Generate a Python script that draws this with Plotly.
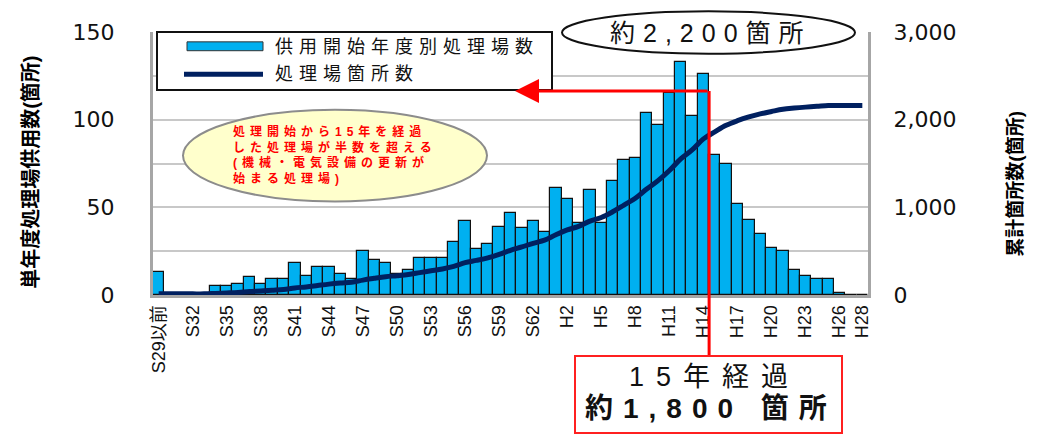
import plotly.graph_objects as go

# 年度カテゴリ (S29以前, S30..S63, H1..H28)
years = ['S29以前'] + [f'S{n}' for n in range(30, 64)] + [f'H{n}' for n in range(1, 29)]

# 供用開始年度別処理場数 (箇所)
plants_per_year = [
    13,
    0, 0, 0, 0, 5, 5, 6, 10, 6, 9, 9, 18, 11, 16, 16,
    12, 9, 25, 20, 18, 12, 14, 21, 21, 21,
    30, 42, 26, 29, 39, 47, 38, 42, 36,
    61, 55, 41, 60, 41, 65, 77, 78,
    104, 97, 115, 133, 102, 126,
    80, 75, 52, 43, 35, 27, 25, 14, 11, 9, 9, 1, 0, 0,
]

# 処理場箇所数 (累計)
cumulative = [
    13,
    13, 13, 13, 13, 18, 23, 29, 39, 45, 54, 63, 81, 92, 108, 124,
    136, 145, 170, 190, 208, 220, 234, 255, 276, 297,
    327, 369, 395, 424, 463, 510, 548, 590, 626,
    687, 742, 783, 843, 884, 949, 1026, 1104,
    1208, 1305, 1420, 1553, 1655, 1781,
    1861, 1936, 1988, 2031, 2066, 2093, 2118, 2132, 2143, 2152, 2161, 2162, 2162, 2162,
]

tick_years = years[::3] + ['H28']

BAR_BLUE = '#00b0f0'
NAVY = '#002060'
GRID = '#c8c8c8'
FRAME = '#a6a6a6'
JP = 'Liberation Sans, Noto Sans CJK JP, sans-serif'
NUM = 'DejaVu Sans, Liberation Sans, sans-serif'

# the page body has an 8px margin; target plot area on screen: x 153..868, y 28..295
OFF = 8
W, H = 1042 - OFF, 437 - OFF
PX0, PX1, PY0, PY1 = 153, 868, 28, 295


def px(x):
    return (x - PX0) / (PX1 - PX0)


def py(y):
    return (PY1 - y) / (PY1 - PY0)


def spaced(text, sp):
    return f"<span style='letter-spacing:{sp}px'>{text}</span>"


def label(text, x, y, size, xanchor='left', **kw):
    font = dict(family=JP, size=size, color=kw.pop('color', '#111111'), weight=kw.pop('weight', 'normal'))
    return dict(text=text, x=px(x), y=py(y), xref='paper', yref='paper',
                xanchor=xanchor, yanchor='middle', showarrow=False, font=font, **kw)


fig = go.Figure()
fig.add_trace(go.Bar(
    x=years, y=plants_per_year, name='供用開始年度別処理場数',
    marker=dict(color=BAR_BLUE, line=dict(color='#111111', width=1.2)),
    showlegend=False,
))
fig.add_trace(go.Scatter(
    x=years, y=cumulative, name='処理場箇所数', yaxis='y2',
    mode='lines', line=dict(color=NAVY, width=5, shape='spline'),
    showlegend=False,
))

shapes = [
    # 凡例ボックス
    dict(type='rect', xref='paper', yref='paper', x0=px(157), x1=px(552), y0=py(87), y1=py(28),
         fillcolor='white', line=dict(color='#111111', width=2)),
    dict(type='rect', xref='paper', yref='paper', x0=px(187), x1=px(263), y0=py(47), y1=py(38),
         fillcolor=BAR_BLUE, line=dict(color='#333333', width=1)),
    dict(type='line', xref='paper', yref='paper', x0=px(184), x1=px(263), y0=py(71), y1=py(71),
         line=dict(color=NAVY, width=5)),
    # 黄色の吹き出し
    dict(type='circle', xref='paper', yref='paper', x0=px(183), x1=px(487), y0=py(200), y1=py(107),
         fillcolor='#ffffcc', line=dict(color='#8c8c8c', width=2)),
    # 約2,200箇所 の楕円
    dict(type='circle', xref='paper', yref='paper', x0=px(562), x1=px(855), y0=py(50), y1=py(7),
         fillcolor='white', line=dict(color='#111111', width=2)),
    # 15年経過 の赤線と枠
    dict(type='line', xref='x', yref='paper', x0=48.5, x1=48.5, y0=py(88), y1=py(357),
         line=dict(color='#ff0000', width=3)),
    dict(type='rect', xref='paper', yref='paper', x0=px(575), x1=px(842), y0=py(435), y1=py(357),
         fillcolor='white', line=dict(color='#ff2020', width=2)),
]

annotations = [
    label('単年度処理場供用数(箇所)', 31, 170, 20, xanchor='center', textangle=-90, weight='bold', color='black'),
    label('累計箇所数(箇所)', 1015, 182, 19, xanchor='center', textangle=-90, weight='bold', color='black'),
    label(spaced('供用開始年度別処理場数', 6), 273, 43, 18),
    label(spaced('処理場箇所数', 6), 273, 71, 18),
    label(spaced('処理開始から15年を経過<br>した処理場が半数を超える<br>(機械・電気設備の更新が<br>始まる処理場)', 5),
          231, 153, 12, align='left', color='#ff0000', weight='bold'),
    label(spaced('約2,200箇所', 8), 608, 29, 25),
    label(spaced('15年経過', 12), 627, 378, 27),
    label(spaced('約<b>1,800</b> 箇所', 10), 583, 410, 28, weight='bold'),
    dict(text='', x=px(515), y=py(88), xref='paper', yref='paper', ax=194, ay=0,
         showarrow=True, arrowhead=2, arrowsize=1.6, arrowwidth=3, arrowcolor='#ff0000', standoff=0),
]

fig.update_layout(
    width=W, height=H,
    margin=dict(l=PX0 - OFF, r=W - (PX1 - OFF), t=PY0 - OFF, b=H - (PY1 - OFF)),
    paper_bgcolor='white', plot_bgcolor='white',
    bargap=0,
    font=dict(family=JP, color='#111111'),
    xaxis=dict(
        type='category', categoryorder='array', categoryarray=years,
        tickmode='array', tickvals=tick_years, ticktext=tick_years,
        tickangle=-90, ticks='', tickfont=dict(family=JP, size=18, color='#111111'),
        showgrid=False, showline=True, linecolor=FRAME, linewidth=3,
        range=[-0.5, len(years) - 0.5],
    ),
    yaxis=dict(
        range=[0, 150], tickvals=[0, 50, 100, 150], ticks='',
        tickfont=dict(family=NUM, size=22, color='#111111'), ticklabelstandoff=31,
        showgrid=True, gridcolor=GRID, gridwidth=2,
        minor=dict(dtick=25, showgrid=True, gridcolor=GRID, gridwidth=2),
        showline=True, linecolor=FRAME, linewidth=3, zeroline=False,
    ),
    yaxis2=dict(
        range=[0, 3000], tickvals=[0, 1000, 2000, 3000], tickformat=',', ticks='',
        overlaying='y', side='right', showgrid=False,
        tickfont=dict(family=NUM, size=22, color='#111111'), ticklabelstandoff=18,
        showline=True, linecolor=FRAME, linewidth=3, zeroline=False,
    ),
    shapes=shapes,
    annotations=annotations,
)

fig.write_html('out.html')
